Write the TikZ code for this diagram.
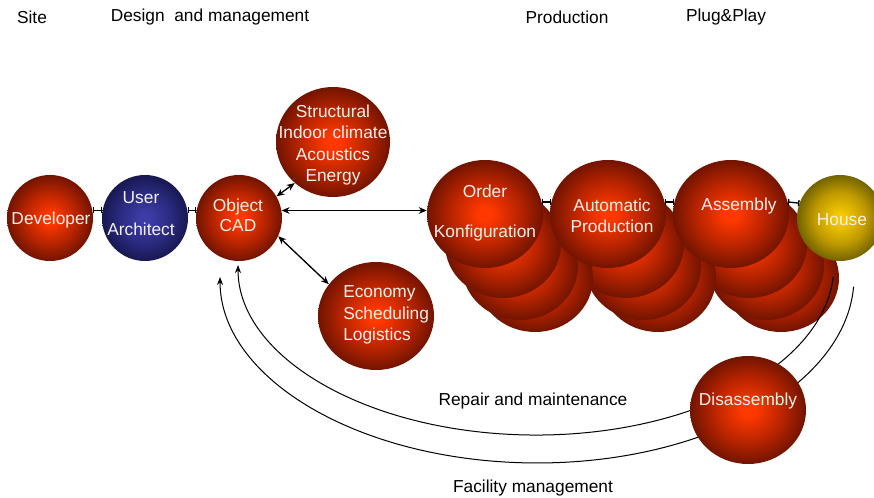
\documentclass[tikz,border=0pt]{standalone}
\usepackage{fontspec}
\setmainfont{Liberation Sans}
\usetikzlibrary{shapes.geometric,arrows.meta,calc}

\definecolor{rA}{HTML}{FF3800}
\definecolor{rB}{HTML}{B82400}
\definecolor{rC}{HTML}{721400}
\definecolor{nA}{HTML}{3C3CA6}
\definecolor{nB}{HTML}{2A2A80}
\definecolor{nC}{HTML}{181852}
\definecolor{gA}{HTML}{F5C800}
\definecolor{gB}{HTML}{C09A00}
\definecolor{gC}{HTML}{736400}
\definecolor{txtw}{HTML}{F4F0EE}

\pgfdeclareradialshading{redball}{\pgfpoint{0bp}{0bp}}{color(0bp)=(rA); color(3bp)=(rA); color(15bp)=(rB); color(25bp)=(rC); color(50bp)=(rC)}
\pgfdeclareradialshading{navyball}{\pgfpoint{0bp}{0bp}}{color(0bp)=(nA); color(3bp)=(nA); color(15bp)=(nB); color(25bp)=(nC); color(50bp)=(nC)}
\pgfdeclareradialshading{goldball}{\pgfpoint{0bp}{0bp}}{color(0bp)=(gA); color(3bp)=(gA); color(15bp)=(gB); color(25bp)=(gC); color(50bp)=(gC)}

\tikzset{
  ball/.style={ellipse, inner sep=0pt, draw=none, shade},
  redb/.style={ball, shading=redball},
  navyb/.style={ball, shading=navyball},
  goldb/.style={ball, shading=goldball},
  smallb/.style={minimum width=64.5pt, minimum height=64.5pt},
  bigb/.style={minimum width=87pt, minimum height=81pt},
  txt/.style={inner sep=0pt, font=\fontsize{13}{16}\selectfont, text=txtw, align=center},
  hdr/.style={inner sep=0pt, font=\fontsize{13}{16}\selectfont, text=black},
  link/.style={line width=1pt, {Bar[width=4.5pt,line width=1pt]}-{Bar[width=4.5pt,line width=1pt]}},
  dbl/.style={line width=1pt, {Stealth[length=6pt,width=5pt]}-{Stealth[length=6pt,width=5pt]}},
  arcline/.style={line width=0.75pt, -{Stealth[length=6pt,width=4.5pt]}},
}

\begin{document}
\begin{tikzpicture}[x=0.75pt, y=-0.75pt]
\useasboundingbox (0,0) rectangle (874,498);

% headers
\node[hdr] (hsite) at (32,17) {Site};
\node[hdr] (hdesign) at (210,17) {Design\ \ and management};
\node[hdr] (hprod) at (567,17) {Production};
\node[hdr] (hplug) at (726,17) {Plug\&Play};

% left chain
\node[redb, smallb] (dev) at (50,218) {};
\node[navyb, smallb] (user) at (145,218) {};
\node[redb, smallb] (cad) at (239,218) {};
\node[redb, minimum width=85.5pt, minimum height=82.5pt] (struct) at (333,142) {};
\node[redb, bigb] (econ) at (376,316) {};

% production stacks (back circles)
\node[redb, bigb] (asm4) at (781,278) {};
\node[redb, bigb] (asm3) at (766,266) {};
\node[redb, bigb] (asm2) at (749,244) {};
\node[redb, bigb] (aut4) at (658,278) {};
\node[redb, bigb] (aut3) at (643,266) {};
\node[redb, bigb] (aut2) at (626,244) {};
\node[redb, bigb] (ord4) at (535,278) {};
\node[redb, bigb] (ord3) at (520,266) {};
\node[redb, bigb] (ord2) at (503,244) {};

% production main circles
\node[redb, bigb] (order) at (485,214) {};
\node[redb, bigb] (auto) at (608,214) {};
\node[redb, bigb] (assem) at (731,214) {};
\node[goldb, smallb] (house) at (840,218) {};

% return arcs
\coordinate (r1) at (833.3,276.9);
\coordinate (r2) at (853.6,286.7);
\draw[arcline] (r1) arc[start angle=-4, end angle=-180, x radius=223.5pt, y radius=127.5pt];
\draw[arcline] (r2) arc[start angle=-3, end angle=-180, x radius=237.75pt, y radius=139.5pt];

\node[redb, bigb] (disasm) at (748,410) {};

% connectors
\draw[link] (dev.10) -- (user.170);
\draw[link] (user.10) -- (cad.170);
\draw[link] (order.12) -- (auto.168);
\draw[link] (auto.12) -- (assem.168);
\draw[link] (assem.12) -- (house.160);
\draw[dbl] (cad.30) -- (struct.227);
\draw[dbl] (cad.10) -- (cad.10 -| order.west);
\draw[dbl] (cad.-25) -- (econ.146);

% texts in circles
\node[txt] (devt) at (51,220) {Developer};
\node[txt] (usert) at (141,214) {User\\[8pt]Architect};
\node[txt] (cadt) at (238,215) {Object\\[-1pt]CAD};
\node[txt] (structt) at (333,145) {Structural\\Indoor climate\\Acoustics\\Energy};
\node[txt, align=left, anchor=west] (econt) at (343,315) {Economy\\Scheduling\\Logistics};
\node[txt] (ordert) at (485,213) {Order\\[14.5pt]Konfiguration};
\node[txt] (autot) at (612,216) {Automatic\\Production};
\node[txt] (assemt) at (739,206) {Assembly};
\node[txt] (houset) at (842,220) {House};
\node[txt] (disasmt) at (748,401) {Disassembly};

% arc labels
\node[hdr] (repair) at (533,401) {Repair and maintenance};
\node[hdr] (facility) at (533,488) {Facility management};
\end{tikzpicture}
\end{document}
